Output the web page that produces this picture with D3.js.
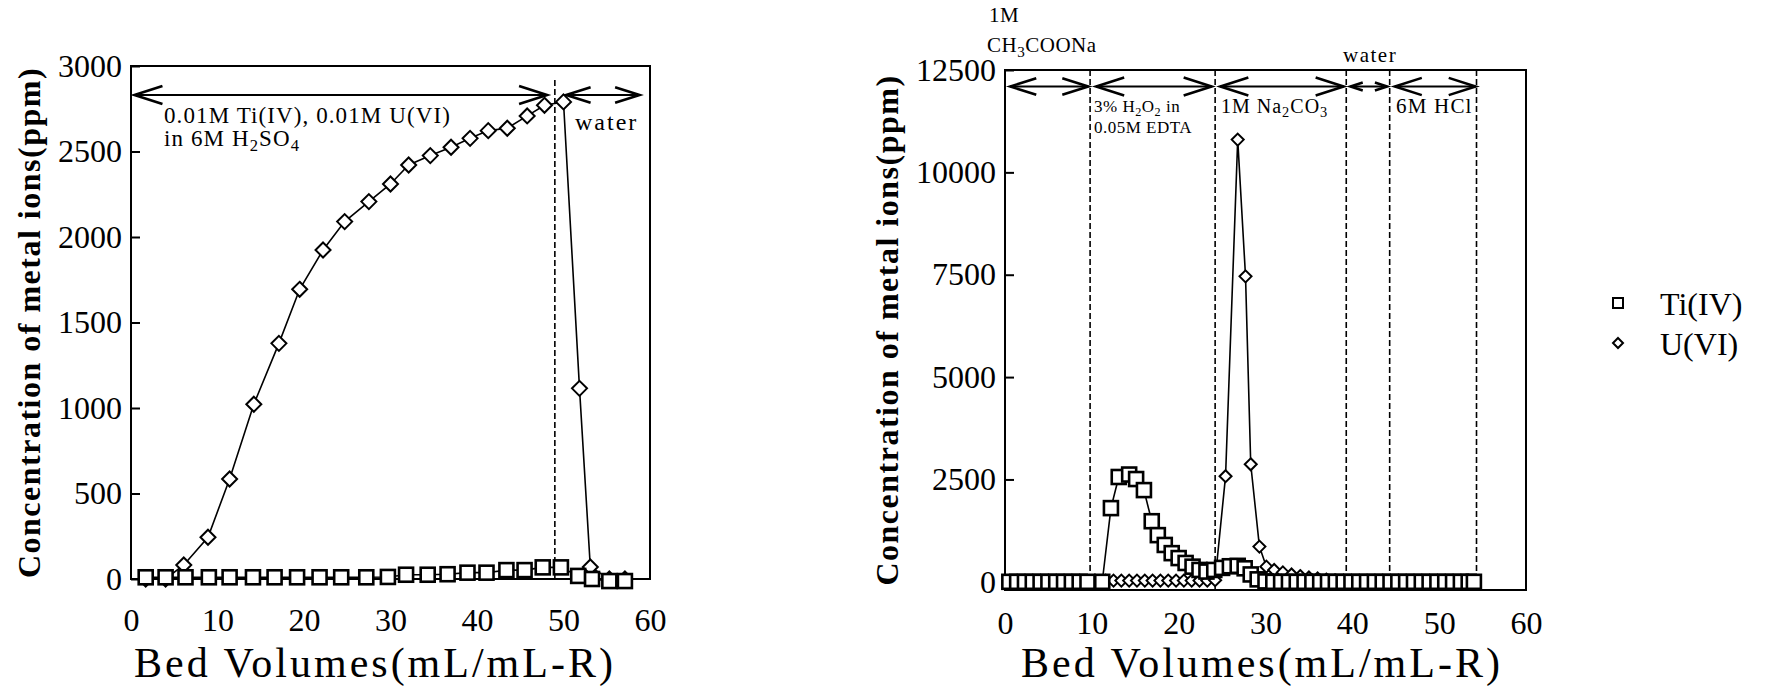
<!DOCTYPE html>
<html>
<head>
<meta charset="utf-8">
<script src="https://cdn.jsdelivr.net/npm/d3@7"></script>
<style>
  body { margin: 0; background: #fff; }
  text { font-family: "Liberation Serif", "Times New Roman", serif; fill: #000; }
</style>
</head>
<body>
<svg id="chart" width="1771" height="691"></svg>
<script>
// ---- data: [bed volume, ppm] ----
const xTicks = [0, 10, 20, 30, 40, 50, 60];
const leftYTicks = [0, 500, 1000, 1500, 2000, 2500, 3000];
const rightYTicks = [0, 2500, 5000, 7500, 10000, 12500];

const leftTi = [[1.7, 10], [4.0, 10], [6.3, 10], [9.0, 10], [11.4, 10], [14.1, 10], [16.6, 10],
  [19.2, 10], [21.8, 10], [24.3, 10], [27.2, 10], [29.7, 12], [31.8, 25], [34.3, 25], [36.6, 28],
  [38.9, 37], [41.1, 37], [43.4, 52], [45.5, 52], [47.6, 68], [49.7, 68], [51.7, 18], [53.3, 0],
  [55.3, -12], [57.1, -12]];

const leftU = [[1.7, 0], [4.0, 0], [6.1, 82], [8.9, 244], [11.4, 585], [14.2, 1022], [17.1, 1378],
  [19.5, 1694], [22.2, 1924], [24.7, 2090], [27.5, 2207], [30.0, 2310], [32.1, 2421], [34.6, 2476],
  [37.0, 2525], [39.2, 2577], [41.3, 2622], [43.5, 2636], [45.8, 2708], [47.8, 2770], [50.0, 2790],
  [51.85, 1115], [53.1, 70], [55.3, 0], [57.1, 0]];

const rightTi = [[0.5, 0], [1.4, 0], [2.3, 0], [3.2, 0], [4.1, 0], [5.0, 0], [5.9, 0], [6.8, 0],
  [7.7, 0], [8.6, 0], [9.5, 0], [11.2, 0], [12.2, 1800], [13.1, 2560], [14.3, 2620], [15.1, 2510],
  [16.0, 2240], [16.9, 1480], [17.6, 1140], [18.4, 900], [19.2, 700], [20.0, 580], [20.8, 460],
  [21.6, 370], [22.4, 290], [23.2, 250], [24.1, 290], [25.0, 340], [25.9, 380], [26.8, 390],
  [27.6, 330], [28.3, 180], [29.1, 60], [30.0, 10], [30.9, 0], [31.8, 0], [32.7, 0], [33.6, 0],
  [34.5, 0], [35.4, 0], [36.3, 0], [37.2, 0], [38.1, 0], [39.0, 0], [39.9, 0], [40.8, 0], [41.7, 0],
  [42.6, 0], [43.5, 0], [44.4, 0], [45.3, 0], [46.2, 0], [47.1, 0], [48.0, 0], [48.9, 0], [49.8, 0],
  [50.7, 0], [51.6, 0], [52.5, 0], [53.4, 0], [54.0, 0]];

const rightU = [[0.5, 0], [2.3, 0], [4.1, 0], [5.9, 0], [7.7, 0], [9.5, 0], [10.4, 0],
  [11.6, 30], [12.5, 30], [13.4, 30], [14.3, 30], [15.2, 30], [16.1, 30], [17.0, 30], [17.9, 30],
  [18.8, 30], [19.7, 30], [20.6, 30], [21.5, 30], [22.4, 30], [23.3, 30], [24.2, 40], [25.4, 2580],
  [26.8, 10800], [27.7, 7460], [28.3, 2870], [29.3, 860], [30.1, 370], [31.0, 290], [32.0, 230],
  [33.0, 180], [34.0, 140], [35.0, 105], [36.0, 80], [37.0, 55], [38.0, 35], [39.0, 20], [40.0, 10],
  [42.0, 0], [44.0, 0], [46.0, 0], [48.0, 0], [50.0, 0], [52.0, 0], [54.0, 0]];

// eluent steps (bed volumes)
const leftSteps = [49.0];
const leftArrows = [[0.4, 48.1], [50.3, 58.8]];
const rightSteps = [9.8, 24.2, 39.3, 44.3, 54.3];
const rightArrows = [[0.6, 9.6], [10.5, 23.8], [24.8, 39.0], [39.8, 44.0], [44.9, 54.2]];

const legendNames = ["Ti(IV)", "U(VI)"];

const svg = d3.select("#chart");

// text with "_2" style subscripts
function rich(sel, str, size) {
  var shift = Math.round(size * 0.22), back = 0;
  str.split(/(_\d)/).forEach(function(p) {
    if (!p) return;
    if (p[0] === "_") {
      sel.append("tspan").attr("font-size", size * 0.72).attr("dy", shift - back).text(p.slice(1));
      back = shift;
    } else {
      sel.append("tspan").attr("dy", -back).text(p);
      back = 0;
    }
  });
  return sel;
}

function diamond(r) {
  return "M0," + (-r) + "L" + r + ",0L0," + r + "L" + (-r) + ",0Z";
}

function arrow(g, x1, x2, yy, head) {
  var h = Math.min(head, (x2 - x1) / 3), w = h * 0.32;
  g.append("line").attr("x1", x1).attr("x2", x2).attr("y1", yy).attr("y2", yy)
    .attr("stroke", "#000").attr("stroke-width", 2.2);
  g.append("path")
    .attr("d", "M" + (x1 + h) + "," + (yy - w) + "L" + x1 + "," + yy + "L" + (x1 + h) + "," + (yy + w) +
      "M" + (x2 - h) + "," + (yy - w) + "L" + x2 + "," + yy + "L" + (x2 - h) + "," + (yy + w))
    .attr("fill", "none").attr("stroke", "#000").attr("stroke-width", 2.6);
}

function panel(o) {
  var x = d3.scaleLinear().domain([0, 60]).range([o.left, o.right]);
  var y = d3.scaleLinear().domain(o.yDomain).range([o.bottom, o.top]);
  var g = svg.append("g");

  g.append("rect")
    .attr("x", o.left).attr("y", o.top)
    .attr("width", o.right - o.left).attr("height", o.bottom - o.top)
    .attr("fill", "none").attr("stroke", "#000").attr("stroke-width", 2);

  var ya = g.append("g")
    .attr("transform", "translate(" + o.left + ",0)")
    .call(d3.axisLeft(y).tickValues(o.yTicks).tickFormat(d3.format("d")).tickSize(-9).tickPadding(9));
  ya.select(".domain").remove();
  ya.selectAll("line").attr("stroke-width", 2);
  ya.selectAll("text").attr("font-size", 32).attr("font-family", null);

  var xa = g.append("g")
    .attr("transform", "translate(0," + o.bottom + ")")
    .call(d3.axisBottom(x).tickValues(xTicks).tickFormat(d3.format("d")).tickSize(0).tickPadding(o.xPad));
  xa.select(".domain").remove();
  xa.selectAll("text").attr("font-size", 32).attr("font-family", null);

  g.append("text")
    .attr("transform", "translate(" + o.yTitleX + "," + ((o.top + o.bottom) / 2) + ") rotate(-90)")
    .attr("text-anchor", "middle")
    .attr("font-size", 32).attr("font-weight", "bold").attr("letter-spacing", 1.5)
    .text("Concentration of metal ions(ppm)");

  g.append("text")
    .attr("x", o.xTitleX).attr("y", 677)
    .attr("font-size", 42).attr("letter-spacing", 3)
    .text("Bed Volumes(mL/mL-R)");

  // step boundaries
  g.selectAll(".step").data(o.steps).join("line")
    .attr("x1", d => x(d)).attr("x2", d => x(d))
    .attr("y1", o.stepTop).attr("y2", o.bottom)
    .attr("stroke", "#000").attr("stroke-width", 1.6).attr("stroke-dasharray", "6,3");

  o.arrows.forEach(function(a) { arrow(g, x(a[0]), x(a[1]), o.top + o.arrowDy, 28); });

  var line = d3.line().x(d => x(d[0])).y(d => y(d[1]));
  g.append("path").datum(o.u).attr("d", line)
    .attr("fill", "none").attr("stroke", "#000").attr("stroke-width", 1.6);
  g.append("path").datum(o.ti).attr("d", line)
    .attr("fill", "none").attr("stroke", "#000").attr("stroke-width", 1.6);

  g.selectAll(".u").data(o.u).join("path")
    .attr("transform", d => "translate(" + x(d[0]) + "," + y(d[1]) + ")")
    .attr("d", diamond(o.dia))
    .attr("fill", "#fff").attr("stroke", "#000").attr("stroke-width", 2);

  var s = o.sq;
  g.selectAll(".ti").data(o.ti).join("rect")
    .attr("x", d => x(d[0]) - s / 2).attr("y", d => y(d[1]) - s / 2)
    .attr("width", s).attr("height", s)
    .attr("fill", "#fff").attr("stroke", "#000").attr("stroke-width", 2.6);

  o.notes.forEach(function(n) {
    var t = g.append("text").attr("x", n[0]).attr("y", n[1])
      .attr("font-size", n[3]).attr("letter-spacing", n[4]);
    rich(t, n[2], n[3]);
  });
  return { x: x, y: y };
}

panel({
  left: 131, right: 650, top: 66, bottom: 579,
  yDomain: [0, 3000], yTicks: leftYTicks, xPad: 29,
  yTitleX: 40, xTitleX: 134,
  steps: leftSteps, stepTop: 80, arrows: leftArrows, arrowDy: 29,
  ti: leftTi, u: leftU, sq: 14, dia: 7.5,
  notes: [
    [164, 123, "0.01M Ti(IV), 0.01M U(VI)", 23, 1.1],
    [164, 146, "in 6M H_2SO_4", 23, 1.1],
    [575, 130, "water", 24, 2]
  ]
});

panel({
  left: 1005, right: 1526, top: 70, bottom: 590,
  yDomain: [-200, 12500], yTicks: rightYTicks, xPad: 21,
  yTitleX: 898, xTitleX: 1021,
  steps: rightSteps, stepTop: 70, arrows: rightArrows, arrowDy: 16.5,
  ti: rightTi, u: rightU, sq: 14, dia: 6,
  notes: [
    [989, 22, "1M", 21, 0.5],
    [987, 52, "CH_3COONa", 21, 0.5],
    [1094, 112, "3% H_2O_2 in", 17, 0.5],
    [1094, 133, "0.05M EDTA", 17, 0.5],
    [1221, 113, "1M Na_2CO_3", 20, 1],
    [1343, 62, "water", 21, 1.5],
    [1396, 113, "6M HCl", 21, 1.2]
  ]
});

// legend
const lg = svg.append("g").attr("transform", "translate(1618,0)");
lg.append("rect").attr("x", -5).attr("y", 298).attr("width", 10).attr("height", 10)
  .attr("fill", "#fff").attr("stroke", "#000").attr("stroke-width", 2);
lg.append("path").attr("transform", "translate(0,343)").attr("d", diamond(5))
  .attr("fill", "#fff").attr("stroke", "#000").attr("stroke-width", 2);
lg.selectAll(".lt").data(legendNames).join("text")
  .attr("x", 42).attr("y", (d, i) => 315 + i * 40)
  .attr("font-size", 32)
  .text(d => d);
</script>
</body>
</html>
